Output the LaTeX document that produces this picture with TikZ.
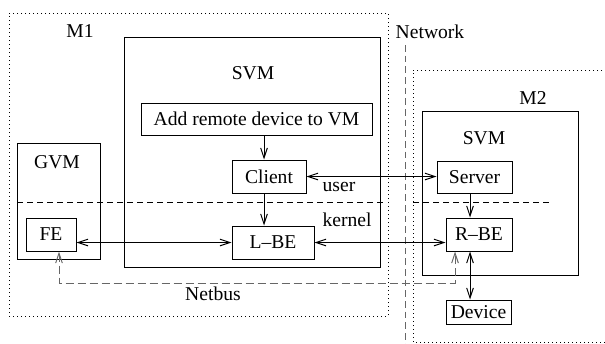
\documentclass[tikz,border=0pt]{standalone}
\usepackage{fontspec}
\setmainfont{Liberation Serif}
\usetikzlibrary{arrows.meta,fit}
\definecolor{busgray}{gray}{0.4}
\tikzset{
  box/.style={draw, inner sep=0pt},
  sz/.style 2 args={minimum width=#1*0.75pt, minimum height=#2*0.75pt},
  machine/.style={draw, inner sep=0pt, dash pattern=on 0.75pt off 2.25pt},
  layer/.style={draw, dash pattern=on 4.5pt off 3pt},
  netbus/.style={draw=busgray, dash pattern=on 6pt off 3pt},
  netline/.style={draw=busgray, dash pattern=on 5pt off 3pt},
  lbl/.style={inner sep=0pt},
}
\begin{document}
\begin{tikzpicture}[x=0.75pt,y=-0.75pt,line width=0.75pt,
  font=\fontsize{14.7}{17}\selectfont,
  >={Straight Barb[length=7.5pt,width=5pt]}]
\useasboundingbox (0,0) rectangle (605,343);

% machine M1
\node[machine, fit={(9,13) (388,316)}] (m1) {};
\node[lbl] (m1lbl) at (80,31) {M1};

% service VM on M1
\node[box, fit={(124,37) (380,267)}] (svm1) {};
\node[lbl] (svm1lbl) at (253,73) {SVM};
\node[box, sz={231}{32}] (add) at (256.5,119) {Add remote device to VM};
\node[box, sz={74}{33}] (client) at (269,176.5) {Client};
\node[box, sz={82}{33}] (lbe) at (273,242.5) {L--BE};

% guest VM
\node[box, fit={(17,143) (100,259)}] (gvm) {};
\node[lbl] (gvmlbl) at (57,162) {GVM};
\node[box, sz={50}{33}] (fe) at (51,234.5) {FE};

% machine M2 (open to the right)
\coordinate (m2a) at (606,70);
\coordinate (m2b) at (413,70);
\coordinate (m2c) at (413,342);
\coordinate (m2d) at (606,342);
\draw[machine] (m2a) -- (m2b) -- (m2c) -- (m2d);
\node[lbl] (m2lbl) at (533,98) {M2};

% service VM on M2
\node[box, fit={(422,111) (578,275)}] (svm2) {};
\node[lbl] (svm2lbl) at (484,138) {SVM};
\node[box, sz={75}{32}] (server) at (474.5,177) {Server};
\node[box, sz={66}{33}] (rbe) at (479,234.5) {R--BE};
\node[box, sz={65}{24}] (device) at (478.5,312) {Device};

% network
\coordinate (nettop) at (405,45);
\coordinate (netbot) at (405,344);
\draw[netline] (nettop) -- (netbot);
\node[lbl] (netlbl) at (430,32) {Network};

% user / kernel boundary
\coordinate (uk1) at (17,202);
\coordinate (uk2) at (384,202);
\coordinate (uk3) at (413,202);
\coordinate (uk4) at (552,202);
\draw[layer] (uk1) -- (uk2);
\draw[layer] (uk3) -- (uk4);
\node[lbl] (userlbl) at (339,187) {user};
\node[lbl] (kernlbl) at (347,220) {kernel};

% columns for the vertical links
\coordinate (lcol) at (264,0);
\coordinate (rcol) at (470,0);
\coordinate (busy) at (0,283);
\coordinate (busl) at (59,0);
\coordinate (busr) at (455,0);

% links
\draw[->] (add.south -| lcol) -- (client.north -| lcol);
\draw[->] (client.south -| lcol) -- (lbe.north -| lcol);
\draw[<->] (client.east) -- (server.west |- client.east);
\draw[<->] (lbe.west) -- (fe.east |- lbe.west);
\draw[<->] (lbe.east) -- (rbe.west |- lbe.east);
\draw[->] (server.south -| rcol) -- (rbe.north -| rcol);
\draw[<->] (rbe.south -| rcol) -- (device.north -| rcol);

% netbus
\draw[netbus,<->] (fe.south -| busl) -- (busl |- busy) -- (busr |- busy) -- (rbe.south -| busr);
\node[lbl] (buslbl) at (213,294) {Netbus};
\end{tikzpicture}
\end{document}
